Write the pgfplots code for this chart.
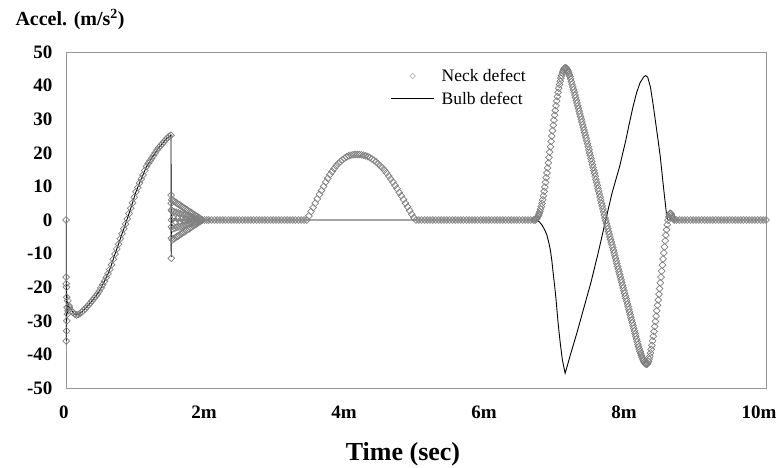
\documentclass[border=0pt]{standalone}
\usepackage{fontspec}
\setmainfont{Liberation Serif}
\usepackage{pgfplots}
\pgfplotsset{compat=1.18}
\usepackage{pgfplotstable}

\pgfplotsset{
  neck legend/.style={legend image code/.code={\draw[mark repeat=2,mark phase=2,##1] plot coordinates {(0pt,0pt) (21.5pt,0pt) (43pt,0pt)};}},
  bulb legend/.style={legend image code/.code={\draw[##1] (0pt,0pt) -- (43pt,0pt);}},
}

\pgfplotstableread[row sep=\\]{
t v\\
0 0\\ 0.002 -17\\ 0.003 -19\\ 0.004 -36\\ 0.006 -20\\ 0.008 -33\\ 0.010 -23\\ 0.012 -30\\ 0.015 -26\\ 0.020 -28\\ 0.025 -24\\ 0.030 -27\\ 0.040 -25.5\\
0.050 -26\\ 0.075 -27\\ 0.100 -27.5\\ 0.125 -28\\ 0.150 -28.3\\ 0.175 -28.1\\ 0.200 -27.8\\ 0.225 -27.4\\ 0.250 -26.9\\ 0.275 -26.4\\
0.300 -25.8\\ 0.325 -25.2\\ 0.350 -24.6\\ 0.375 -24\\ 0.400 -23.3\\ 0.425 -22.7\\ 0.450 -22\\ 0.475 -21.1\\ 0.500 -20.2\\ 0.525 -19.2\\
0.550 -18.2\\ 0.575 -17.1\\ 0.600 -16\\ 0.625 -14.7\\ 0.650 -13.3\\ 0.675 -11.7\\ 0.700 -10.1\\ 0.725 -8.6\\ 0.750 -7.2\\ 0.775 -5.6\\
0.800 -4.1\\ 0.825 -2.6\\ 0.850 -1.2\\ 0.875 0.3\\ 0.900 1.9\\ 0.925 3.5\\ 0.950 5.1\\ 0.975 6.8\\ 1.000 8.4\\ 1.025 9.7\\
1.050 11\\ 1.075 12.2\\ 1.100 13.4\\ 1.125 14.7\\ 1.150 15.9\\ 1.175 16.8\\ 1.200 17.6\\ 1.225 18.4\\ 1.250 19.2\\ 1.275 20\\
1.300 20.8\\ 1.325 21.5\\ 1.350 22.1\\ 1.375 22.7\\ 1.400 23.3\\ 1.425 23.9\\ 1.450 24.5\\ 1.475 24.9\\ 1.500 25.2\\
1.502 7.4\\ 1.503 -11.4\\ 1.504 5\\ 1.505 -5.4\\ 1.506 3\\ 1.507 -2\\ 1.508 0\\
1.51 6.0\\ 1.52 -5.9\\ 1.53 5.7\\ 1.54 -5.6\\ 1.55 5.5\\ 1.56 -5.3\\ 1.57 5.2\\ 1.58 -5.0\\ 1.59 4.9\\ 1.60 -4.8\\
1.61 4.6\\ 1.62 -4.5\\ 1.63 4.4\\ 1.64 -4.2\\ 1.65 4.1\\ 1.66 -3.9\\ 1.67 3.8\\ 1.68 -3.7\\ 1.69 3.5\\ 1.70 -3.4\\
1.71 3.3\\ 1.72 -3.1\\ 1.73 3.0\\ 1.74 -2.8\\ 1.75 2.7\\ 1.76 -2.6\\ 1.77 2.4\\ 1.78 -2.3\\ 1.79 2.2\\ 1.80 -2.0\\
1.81 1.9\\ 1.82 -1.7\\ 1.83 1.6\\ 1.84 -1.5\\ 1.85 1.3\\ 1.86 -1.2\\ 1.87 1.1\\ 1.88 -0.9\\ 1.89 0.8\\ 1.90 -0.6\\
1.91 0.5\\ 1.92 -0.4\\ 1.93 0.2\\ 1.94 -0.1\\ 1.95 0\\
1.515 2.7\\ 1.525 -2.6\\ 1.535 0.5\\ 1.545 2.5\\ 1.555 -2.4\\ 1.565 -0.5\\ 1.575 2.3\\ 1.585 -2.2\\ 1.595 0.4\\ 1.605 2.1\\
1.615 -2.1\\ 1.625 -0.4\\ 1.635 1.9\\ 1.645 -1.9\\ 1.655 0.3\\ 1.665 1.8\\ 1.675 -1.7\\ 1.685 -0.3\\ 1.695 1.6\\ 1.705 -1.5\\
1.715 0.3\\ 1.725 1.4\\ 1.735 -1.3\\ 1.745 -0.2\\ 1.755 1.2\\ 1.765 -1.1\\ 1.775 0.2\\ 1.785 1.0\\ 1.795 -0.9\\ 1.805 -0.2\\
1.815 0.8\\ 1.825 -0.8\\ 1.835 0.1\\ 1.845 0.6\\ 1.855 -0.6\\ 1.865 0\\ 1.875 0.4\\ 1.885 -0.4\\ 1.895 0\\ 1.905 0.3\\
1.98 0\\ 2.01 0\\ 2.04 0\\ 2.08 0\\ 2.12 0\\ 2.16 0\\ 2.20 0\\ 2.24 0\\ 2.28 0\\ 2.32 0\\ 2.36 0\\
2.40 0\\ 2.44 0\\ 2.48 0\\ 2.52 0\\ 2.56 0\\ 2.60 0\\ 2.64 0\\ 2.68 0\\ 2.72 0\\ 2.76 0\\ 2.80 0\\ 2.84 0\\ 2.88 0\\ 2.92 0\\
2.96 0\\ 3.00 0\\ 3.04 0\\ 3.08 0\\ 3.12 0\\ 3.16 0\\ 3.20 0\\ 3.24 0\\ 3.28 0\\ 3.32 0\\ 3.36 0\\ 3.40 0\\
3.44 0\\ 3.47 1.2\\ 3.50 2.5\\ 3.53 3.7\\ 3.56 5.0\\ 3.59 6.3\\ 3.62 7.6\\ 3.65 8.8\\ 3.68 10.0\\ 3.71 11.3\\ 3.74 12.4\\ 3.77 13.5\\
3.80 14.4\\ 3.83 15.3\\ 3.86 16.1\\ 3.89 16.8\\ 3.92 17.4\\ 3.95 17.9\\ 3.98 18.4\\ 4.01 18.8\\ 4.04 19.1\\ 4.07 19.3\\ 4.10 19.4\\
4.13 19.5\\ 4.16 19.5\\ 4.19 19.5\\ 4.22 19.4\\ 4.25 19.3\\ 4.28 19.1\\ 4.31 18.9\\ 4.34 18.6\\ 4.37 18.2\\ 4.40 17.8\\ 4.43 17.3\\
4.46 16.7\\ 4.49 16.1\\ 4.52 15.5\\ 4.55 14.8\\ 4.58 14.0\\ 4.61 13.1\\ 4.64 12.2\\ 4.67 11.3\\ 4.70 10.3\\ 4.73 9.3\\ 4.76 8.2\\
4.79 7.2\\ 4.82 6.1\\ 4.85 5.0\\ 4.88 3.9\\ 4.91 2.8\\ 4.94 1.7\\ 4.97 0.7\\ 5.00 0\\
5.04 0\\ 5.08 0\\ 5.12 0\\ 5.16 0\\ 5.20 0\\ 5.24 0\\ 5.28 0\\ 5.32 0\\ 5.36 0\\ 5.40 0\\ 5.44 0\\ 5.48 0\\ 5.52 0\\ 5.56 0\\
5.60 0\\ 5.64 0\\ 5.68 0\\ 5.72 0\\ 5.76 0\\ 5.80 0\\ 5.84 0\\ 5.88 0\\ 5.92 0\\ 5.96 0\\ 6.00 0\\ 6.04 0\\ 6.08 0\\ 6.12 0\\
6.16 0\\ 6.20 0\\ 6.24 0\\ 6.28 0\\ 6.32 0\\ 6.36 0\\ 6.40 0\\ 6.44 0\\ 6.48 0\\ 6.52 0\\ 6.56 0\\ 6.60 0\\ 6.64 0\\ 6.68 0\\
6.70 0\\ 6.71 0.1\\ 6.72 0.3\\ 6.73 0.6\\ 6.74 1.0\\ 6.75 1.4\\ 6.76 1.9\\ 6.77 2.5\\ 6.78 3.2\\ 6.79 4.0\\
6.80 4.9\\ 6.81 6.0\\ 6.82 7.2\\ 6.83 8.5\\ 6.84 9.8\\ 6.85 11.2\\ 6.86 12.6\\ 6.87 14.0\\ 6.88 15.5\\ 6.89 17.0\\
6.90 18.6\\ 6.91 20.2\\ 6.92 21.8\\ 6.93 23.4\\ 6.94 25.0\\ 6.95 26.6\\ 6.96 28.2\\ 6.97 29.7\\ 6.98 31.2\\ 6.99 32.6\\
7.00 34.0\\ 7.01 35.4\\ 7.02 36.7\\ 7.03 38.0\\ 7.04 39.2\\ 7.05 40.3\\ 7.06 41.3\\ 7.07 42.2\\ 7.08 43.0\\ 7.09 43.7\\
7.10 44.3\\ 7.11 44.8\\ 7.12 45.1\\ 7.13 45.3\\ 7.14 45.3\\ 7.15 45.1\\ 7.16 44.8\\ 7.17 44.4\\ 7.18 43.9\\ 7.19 43.3\\
7.20 42.7\\ 7.21 42.0\\ 7.22 41.2\\ 7.23 40.4\\ 7.24 39.6\\ 7.25 38.8\\ 7.26 38.0\\ 7.27 37.2\\ 7.28 36.4\\ 7.29 35.6\\
7.30 34.8\\ 7.31 34.0\\ 7.32 33.2\\ 7.33 32.4\\ 7.34 31.6\\ 7.35 30.8\\ 7.36 30.0\\ 7.37 29.2\\ 7.38 28.4\\ 7.39 27.6\\
7.40 26.8\\ 7.41 26.0\\ 7.42 25.2\\ 7.43 24.4\\ 7.44 23.6\\ 7.45 22.7\\ 7.46 21.8\\ 7.47 20.9\\ 7.48 20.0\\ 7.49 19.2\\
7.50 18.3\\ 7.51 17.4\\ 7.52 16.5\\ 7.53 15.6\\ 7.54 14.7\\ 7.55 13.9\\ 7.56 13.0\\ 7.57 12.1\\ 7.58 11.2\\ 7.59 10.3\\
7.60 9.4\\ 7.61 8.6\\ 7.62 7.7\\ 7.63 6.8\\ 7.64 5.9\\ 7.65 5.0\\ 7.66 4.2\\ 7.67 3.3\\ 7.68 2.4\\ 7.69 1.5\\
7.70 0.6\\ 7.71 -0.2\\ 7.72 -1.0\\ 7.73 -1.8\\ 7.74 -2.6\\ 7.75 -3.4\\ 7.76 -4.2\\ 7.77 -5.0\\ 7.78 -5.8\\ 7.79 -6.6\\
7.80 -7.4\\ 7.81 -8.2\\ 7.82 -9.0\\ 7.83 -9.8\\ 7.84 -10.6\\ 7.85 -11.4\\ 7.86 -12.2\\ 7.87 -13.0\\ 7.88 -13.8\\ 7.89 -14.6\\
7.90 -15.4\\ 7.91 -16.2\\ 7.92 -17.0\\ 7.93 -17.8\\ 7.94 -18.6\\ 7.95 -19.4\\ 7.96 -20.2\\ 7.97 -21.0\\ 7.98 -21.8\\ 7.99 -22.6\\
8.00 -23.4\\ 8.01 -24.2\\ 8.02 -25.0\\ 8.03 -25.8\\ 8.04 -26.6\\ 8.05 -27.4\\ 8.06 -28.2\\ 8.07 -29.0\\ 8.08 -29.8\\ 8.09 -30.6\\
8.10 -31.4\\ 8.11 -32.2\\ 8.12 -33.0\\ 8.13 -33.8\\ 8.14 -34.6\\ 8.15 -35.4\\ 8.16 -36.2\\ 8.17 -37.0\\ 8.18 -37.7\\ 8.19 -38.4\\
8.20 -39.1\\ 8.21 -39.7\\ 8.22 -40.3\\ 8.23 -40.9\\ 8.24 -41.4\\ 8.25 -41.9\\ 8.26 -42.3\\ 8.27 -42.6\\ 8.28 -42.8\\ 8.29 -42.9\\
8.30 -42.9\\ 8.31 -42.6\\ 8.32 -42.1\\ 8.33 -41.4\\ 8.34 -40.6\\ 8.35 -39.6\\ 8.36 -38.5\\ 8.37 -37.3\\ 8.38 -36.0\\ 8.39 -34.6\\
8.40 -33.2\\ 8.41 -31.7\\ 8.42 -30.2\\ 8.43 -28.6\\ 8.44 -27.0\\ 8.45 -25.4\\ 8.46 -23.8\\ 8.47 -22.1\\ 8.48 -20.4\\ 8.49 -18.7\\
8.50 -17.0\\ 8.51 -15.2\\ 8.52 -13.4\\ 8.53 -11.6\\ 8.54 -9.8\\ 8.55 -8.0\\ 8.56 -6.2\\ 8.57 -4.5\\ 8.58 -2.9\\ 8.59 -1.4\\
8.60 -0.1\\ 8.61 0.9\\ 8.62 1.6\\ 8.63 2.0\\ 8.64 1.9\\ 8.65 1.5\\ 8.66 1.0\\ 8.67 0.5\\ 8.68 0.2\\ 8.69 0\\
8.72 0\\ 8.76 0\\ 8.80 0\\ 8.84 0\\ 8.88 0\\ 8.92 0\\ 8.96 0\\ 9.00 0\\ 9.04 0\\ 9.08 0\\ 9.12 0\\ 9.16 0\\ 9.20 0\\ 9.24 0\\
9.28 0\\ 9.32 0\\ 9.36 0\\ 9.40 0\\ 9.44 0\\ 9.48 0\\ 9.52 0\\ 9.56 0\\ 9.60 0\\ 9.64 0\\ 9.68 0\\ 9.72 0\\ 9.76 0\\ 9.80 0\\
9.84 0\\ 9.88 0\\ 9.92 0\\ 9.96 0\\ 10.00 0\\
}\neck

\pgfplotstableread[row sep=\\]{
t v\\
0 0\\ 0.001 -36\\ 0.004 -18\\ 0.008 -30\\ 0.012 -22\\ 0.020 -28\\ 0.030 -25\\ 0.050 -26\\
0.10 -27.5\\ 0.15 -28.3\\ 0.20 -27.8\\ 0.25 -26.9\\ 0.30 -25.8\\ 0.35 -24.6\\ 0.40 -23.3\\ 0.45 -22\\ 0.50 -20.2\\
0.55 -18.2\\ 0.60 -16\\ 0.65 -13.3\\ 0.70 -10.1\\ 0.75 -7.2\\ 0.80 -4.1\\ 0.85 -1.2\\ 0.90 1.9\\ 0.95 5.1\\ 1.00 8.4\\
1.05 11\\ 1.10 13.4\\ 1.15 15.9\\ 1.20 17.6\\ 1.25 19.2\\ 1.30 20.8\\ 1.35 22.1\\ 1.40 23.3\\ 1.45 24.5\\ 1.50 25.2\\
1.503 -11\\ 1.506 3\\ 1.510 0\\ 6.72 0\\
6.76 -0.5\\ 6.80 -1.5\\ 6.84 -3\\ 6.87 -4.5\\ 6.90 -7\\ 6.92 -9\\ 6.94 -12\\ 6.96 -15.9\\ 6.98 -19.5\\ 7.00 -23.5\\
7.03 -30.7\\ 7.06 -36.5\\ 7.09 -41.5\\ 7.13 -45.6\\ 7.16 -43.5\\ 7.20 -40.5\\ 7.30 -33.5\\ 7.40 -26\\ 7.50 -18.5\\ 7.60 -10\\
7.71 0\\ 7.80 8\\ 7.91 16\\ 8.00 24\\ 8.05 29\\ 8.10 33.7\\ 8.15 37.8\\ 8.20 40.8\\ 8.25 42.5\\ 8.28 43.0\\ 8.31 42.5\\
8.35 39.5\\ 8.39 34\\ 8.43 28\\ 8.46 23.5\\ 8.49 18.8\\ 8.52 12.8\\ 8.55 7\\ 8.58 1.5\\ 8.595 0\\ 10 0\\
}\bulb

\definecolor{boxgray}{RGB}{150,150,150}
\definecolor{neckgray}{RGB}{128,128,128}

\begin{document}
\begin{tikzpicture}
\begin{axis}[
  at={(0,0)}, anchor=south west,
  scale only axis, width=700pt, height=336pt,
  xmin=0, xmax=10, ymin=-50, ymax=50,
  xtick={0,2,4,6,8}, xticklabels={0,2m,4m,6m,8m},
  extra x ticks={10}, extra x tick labels={10m},
  extra x tick style={xticklabel style={xshift=-5pt}},
  ytick={-50,-40,-30,-20,-10,0,10,20,30,40,50},
  yticklabels={-50,-40,-30,-20,-10,0,10,20,30,40,50},
  major tick length=0pt,
  extra tick style={major tick length=0pt, grid=none},
  axis line style={draw=boxgray, line width=0.9pt},
  ticklabel style={font=\fontsize{19}{20}\selectfont\bfseries},
  xticklabel style={yshift=-14pt, xshift=-2pt},
  yticklabel style={xshift=-10pt},
  xlabel={Time (sec)},
  ylabel={Accel. (m/s\textsuperscript{2})},
  every axis x label/.style={at={(rel axis cs:0.5,0)}, anchor=base, xshift=-13pt, yshift=-72pt,
    font=\fontsize{26}{28}\selectfont\bfseries},
  every axis y label/.style={at={(rel axis cs:0,1)}, anchor=base west, xshift=-54pt, yshift=26pt,
    font=\fontsize{20}{22}\selectfont\bfseries},
  legend style={at={(axis cs:4.64,45.5)}, anchor=north west, draw=none, fill=none,
    inner sep=0pt, outer sep=0pt, row sep=5pt,
    font=\fontsize{17.5}{18}\selectfont,
    /tikz/every odd column/.style={column sep=5pt}},
  legend cell align=left,
]
\addlegendimage{only marks, mark=square, mark size=1.9pt,
  mark options={rotate=45, draw=neckgray!70, line width=0.5pt}, neck legend}
\addlegendentry{Neck defect}
\addlegendimage{black, line width=0.9pt, bulb legend}
\addlegendentry{Bulb defect}

\addplot[black, line width=0.9pt, forget plot] table[x=t, y=v] {\bulb};
\addplot[only marks, mark=square, mark size=2.4pt,
  mark options={rotate=45, draw=neckgray, line width=0.7pt}, forget plot] table[x=t, y=v] {\neck};
\end{axis}
\pgfresetboundingbox
\useasboundingbox (-66pt,-80pt) rectangle (715pt,388pt);
\end{tikzpicture}
\end{document}
